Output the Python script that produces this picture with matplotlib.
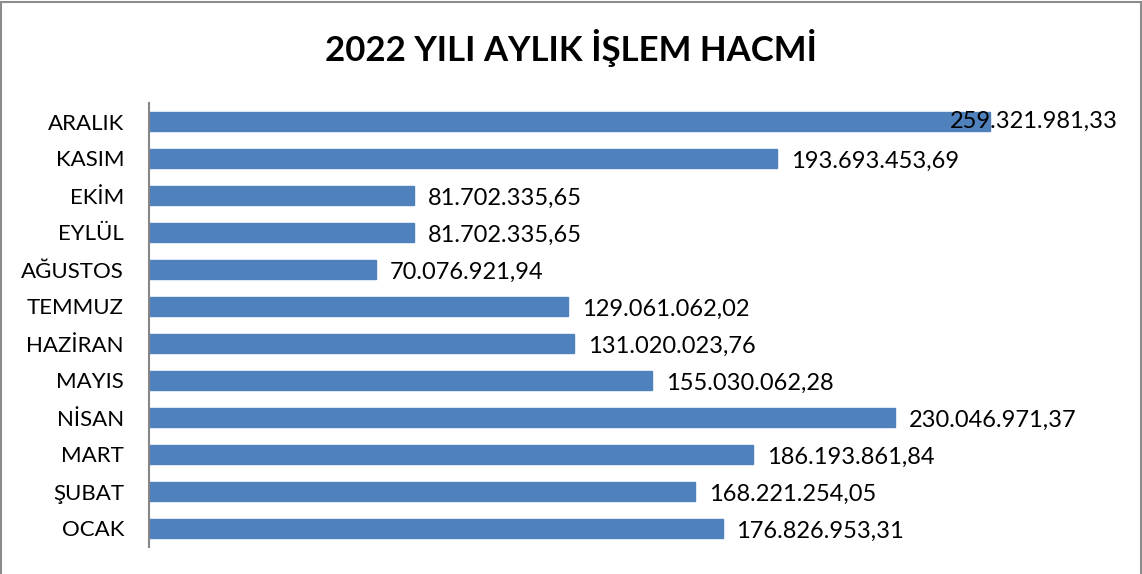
import matplotlib
matplotlib.use("Agg")
import matplotlib.pyplot as plt
from matplotlib.patches import Rectangle

plt.rcParams['font.family'] = ['Lato', 'DejaVu Sans']

# aylar (alttan üste)
aylar = ["OCAK", "ŞUBAT", "MART", "NİSAN", "MAYIS", "HAZİRAN",
         "TEMMUZ", "AĞUSTOS", "EYLÜL", "EKİM", "KASIM", "ARALIK"]
hacim = [176826953.31, 168221254.05, 186193861.84, 230046971.37, 155030062.28,
         131020023.76, 129061062.02, 70076921.94, 81702335.65, 81702335.65,
         193693453.69, 259321981.33]
etiketler = ["176.826.953,31", "168.221.254,05", "186.193.861,84", "230.046.971,37",
             "155.030.062,28", "131.020.023,76", "129.061.062,02", "70.076.921,94",
             "81.702.335,65", "81.702.335,65", "193.693.453,69", "259.321.981,33"]

W, H = 1142, 574
fig = plt.figure(figsize=(W / 100, H / 100), dpi=100)
ax = fig.add_axes([149 / W, 1 - 547 / H, (1120 - 149) / W, (547 - 103) / H])

xmax = (1120 - 149) / 3.244 * 1e6
y = range(len(aylar))
ax.barh(y, hacim, height=0.52, color="#4F81BD", edgecolor="#4F81BD")
ax.set_xlim(0, xmax)
ax.set_ylim(-0.5, len(aylar) - 0.5)

# değer etiketleri
sinir = (1118 - 149) / 3.244 * 1e6
for i, (v, t) in enumerate(zip(hacim, etiketler)):
    if v > 0.85 * xmax:
        ax.text(sinir, i, t, ha="right", va="center", fontsize=17)
    else:
        ax.annotate(t, (v, i), xytext=(10, -2), textcoords="offset points",
                    ha="left", va="center", fontsize=17)

ax.set_yticks(list(y))
ax.set_yticklabels(aylar, fontsize=16)
ax.tick_params(axis="y", length=0, pad=18)
ax.set_xticks([])
for s in ["top", "right", "bottom"]:
    ax.spines[s].set_visible(False)
ax.spines["left"].set_color("#868686")
ax.spines["left"].set_linewidth(1.5)

fig.text(0.5, 1 - 48 / H, "2022 YILI AYLIK İŞLEM HACMİ", ha="center", va="center",
         fontsize=25, fontweight="bold")

# dış çerçeve
fig.patches.append(Rectangle((1 / W, -0.01), 1 - 2.5 / W, 1 - 2 / H + 0.01,
                             transform=fig.transFigure, fill=False,
                             edgecolor="#8c8c8c", linewidth=1.5))

fig.savefig("out.png", dpi=100)
